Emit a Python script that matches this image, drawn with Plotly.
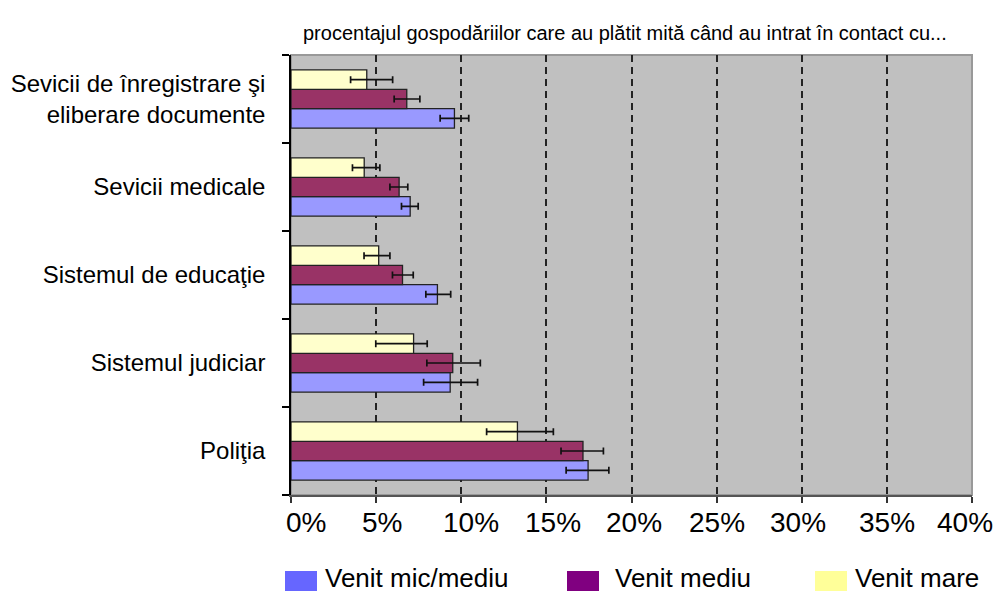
import plotly.graph_objects as go

categories = [
    "Sevicii de înregistrare şi<br>eliberare documente",
    "Sevicii medicale",
    "Sistemul de educaţie",
    "Sistemul judiciar",
    "Poliţia",
]
series_names = ["Venit mic/mediu", "Venit mediu", "Venit mare"]

venit_mic_mediu = [9.6, 7.0, 8.6, 9.35, 17.45]
venit_mic_mediu_minus = [0.84, 0.51, 0.68, 1.56, 1.29]
venit_mic_mediu_plus = [0.84, 0.47, 0.78, 1.61, 1.22]

venit_mediu = [6.8, 6.35, 6.55, 9.5, 17.15]
venit_mediu_minus = [0.74, 0.54, 0.59, 1.52, 1.29]
venit_mediu_plus = [0.77, 0.51, 0.63, 1.62, 1.20]

venit_mare = [4.45, 4.3, 5.15, 7.2, 13.3]
venit_mare_minus = [0.95, 0.69, 0.86, 2.22, 1.81]
venit_mare_plus = [1.52, 0.92, 0.66, 0.80, 2.11]

x_ticks = [0, 5, 10, 15, 20, 25, 30, 35, 40]
x_tick_labels = ["0%", "5%", "10%", "15%", "20%", "25%", "30%", "35%", "40%"]
x_label_nudge = [15, 6, 10, 7, 2, 0, -4, 0, -7]   # pixel nudges of labels (style)

title_text = "procentajul gospodăriilor care au plătit mită când au intrat în contact cu..."

bar_colors = ["#9999FF", "#993366", "#FFFFCC"]
legend_colors = ["#6666FF", "#800080", "#FFFF99"]

values = [venit_mic_mediu, venit_mediu, venit_mare]
minus = [venit_mic_mediu_minus, venit_mediu_minus, venit_mare_minus]
plus = [venit_mic_mediu_plus, venit_mediu_plus, venit_mare_plus]

fig = go.Figure()
for name, vals, em, ep, col in zip(series_names, values, minus, plus, bar_colors):
    fig.add_trace(go.Bar(
        y=categories, x=vals, name=name, orientation="h",
        marker=dict(color=col, line=dict(color="#222222", width=1.3)),
        error_x=dict(type="data", symmetric=False, array=ep, arrayminus=em,
                     color="#111111", thickness=1.7, width=3.5),
        showlegend=False,
    ))

fig.update_layout(
    width=995, height=593,
    margin=dict(l=291, r=23, t=55, b=98, autoexpand=False),
    paper_bgcolor="white",
    plot_bgcolor="#C0C0C0",
    barmode="group",
    bargap=0.34,
    bargroupgap=0,
    font=dict(family="Liberation Sans, Arial, sans-serif", color="black"),
)

fig.update_xaxes(
    range=[0, 40],
    tickvals=x_ticks, showticklabels=False,
    ticks="outside", ticklen=6, tickcolor="#333333", tickwidth=1.5,
    showline=True, linecolor="#555555", linewidth=2,
    showgrid=True, gridcolor="#222222", gridwidth=1.6, griddash="7px,5px",
    zeroline=False,
)
fig.update_yaxes(
    categoryorder="array", categoryarray=categories[::-1],
    tickfont=dict(family="Liberation Sans, Arial", size=24),
    ticks="outside", ticklen=7, tickcolor="black", tickwidth=1.5,
    tickson="boundaries",
    ticklabelstandoff=19,
    showline=True, linecolor="black", linewidth=1.5,
    showgrid=False,
)

# x tick labels
for v, lab, dx in zip(x_ticks, x_tick_labels, x_label_nudge):
    fig.add_annotation(text=lab, xref="x", yref="paper", x=v, y=0,
                       xshift=dx, yshift=-27, xanchor="center", yanchor="middle",
                       showarrow=False,
                       font=dict(family="Liberation Sans, Arial", size=28))

# plot border (top / right)
fig.add_shape(type="rect", xref="paper", yref="paper", x0=0, x1=1, y0=0, y1=1,
              line=dict(color="#999999", width=2), layer="below")

# title
fig.add_annotation(text=title_text, xref="paper", yref="paper",
                   x=(625 - 291) / (995 - 291 - 23), y=1, yshift=22,
                   xanchor="center", yanchor="middle", showarrow=False,
                   font=dict(family="Liberation Sans, Arial", size=20))

# manual legend
plot_w = 995 - 291 - 23
plot_h = 593 - 55 - 98
sq_x = [285, 567, 815]
txt_x = [323, 613, 853]
for name, col, sx, tx in zip(series_names, legend_colors, sq_x, txt_x):
    x0 = (sx - 291) / plot_w
    x1 = (sx + 32 - 291) / plot_w
    y0 = (593 - 98 - 591) / plot_h
    y1 = (593 - 98 - 571) / plot_h
    fig.add_shape(type="rect", xref="paper", yref="paper", x0=x0, x1=x1, y0=y0, y1=y1,
                  fillcolor=col, line=dict(width=0))
    fig.add_annotation(text=name, xref="paper", yref="paper",
                       x=(tx - 291) / plot_w, y=(593 - 98 - 578) / plot_h,
                       xanchor="left", yanchor="middle", showarrow=False,
                       font=dict(family="Liberation Sans, Arial", size=26))

fig.write_html("out.html", config={"displayModeBar": False},
               post_script="document.body.style.margin='0';document.body.style.padding='0';")
